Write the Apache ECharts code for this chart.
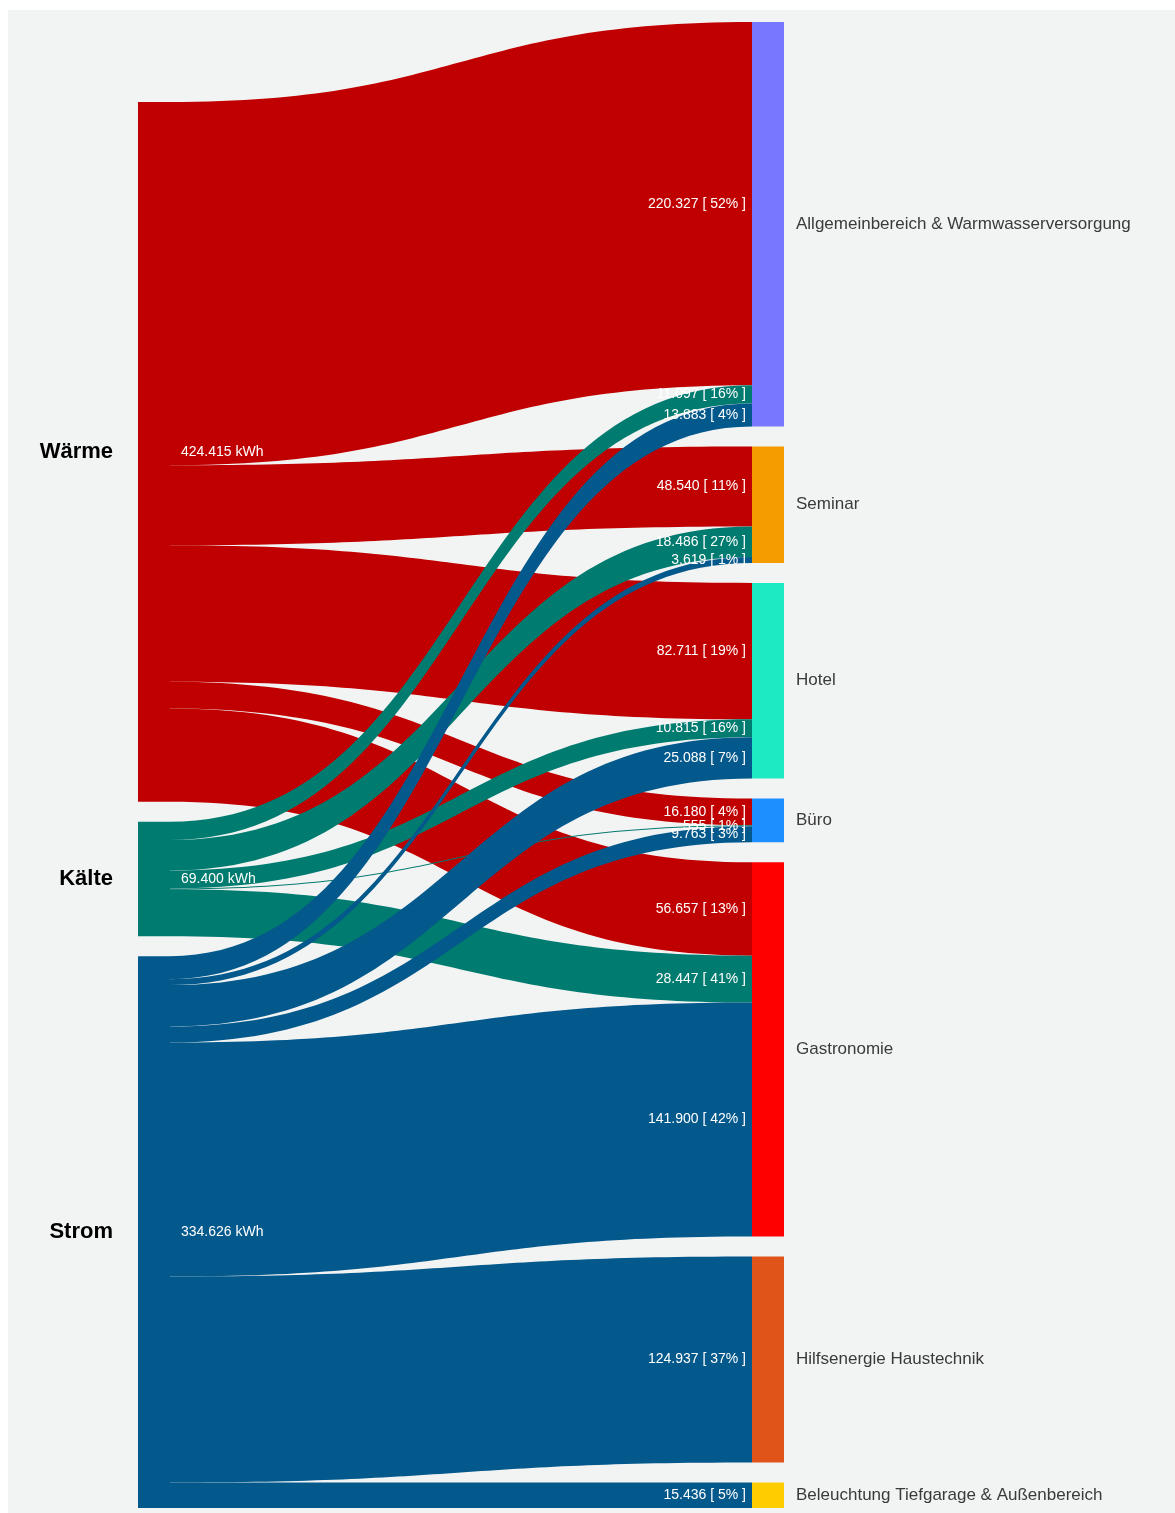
<!DOCTYPE html>
<html>
<head>
<meta charset="utf-8">
<script src="https://cdn.jsdelivr.net/npm/echarts@6/dist/echarts.min.js"></script>
<style>
html, body { margin: 0; padding: 0; background: #ffffff; }
#wrap { position: relative; width: 1175px; height: 1513px; }
#chart { position: absolute; left: 8px; top: 10px; width: 1167px; height: 1503px; }
</style>
</head>
<body>
<div id="wrap"><div id="chart"></div></div>
<script>
// ---- data ----
const sources = ['Wärme', 'Kälte', 'Strom'];
const targets = ['Allgemeinbereich & Warmwasserversorgung', 'Seminar', 'Hotel', 'Büro', 'Gastronomie', 'Hilfsenergie Haustechnik', 'Beleuchtung Tiefgarage & Außenbereich'];
const waermeValues = [220327, 48540, 82711, 16180, 56657, 0, 0];
const kaelteValues = [11097, 18486, 10815, 555, 28447, 0, 0];
const stromValues  = [13883, 3619, 25088, 9763, 141900, 124937, 15436];
const unit = 'kWh';

// ---- styles ----
const sourceColors = ['#c00000', '#007b6f', '#03588c'];
const targetColors = ['#7777ff', '#f59c00', '#1de9c2', '#1e8fff', '#ff0000', '#e0541a', '#ffcc00'];
const sourceValueLists = [waermeValues, kaelteValues, stromValues];

function fmt(v) {
  return String(v).replace(/\B(?=(\d{3})+(?!\d))/g, '.');
}
const sourceTotals = sourceValueLists.map(a => a.reduce((s, v) => s + v, 0));

const nodes = [];
sources.forEach((n, i) => nodes.push({
  name: n,
  itemStyle: { color: sourceColors[i], borderWidth: 0 },
  label: { position: 'left', distance: 25, fontSize: 22, fontWeight: 'bold', color: '#000', fontFamily: 'Liberation Sans' }
}));
targets.forEach((n, i) => nodes.push({
  name: n,
  itemStyle: { color: targetColors[i], borderWidth: 0 },
  label: { position: 'right', distance: 12, fontSize: 17, color: '#3a3a3a', fontFamily: 'Liberation Sans' }
}));
const links = [];
sourceValueLists.forEach((arr, si) => {
  arr.forEach((v, ti) => {
    if (v > 0) links.push({ source: sources[si], target: targets[ti], value: v });
  });
});

const chart = echarts.init(document.getElementById('chart'), null, { renderer: 'canvas' });
chart.setOption({
  backgroundColor: '#f2f3f3',
  animation: false,
  series: [{
    type: 'sankey',
    left: 130, top: 12, right: 391, bottom: 5,
    nodeWidth: 32,
    nodeGap: 20,
    nodeAlign: 'justify',
    draggable: false,
    emphasis: { disabled: true },
    data: nodes,
    links: links,
    lineStyle: { color: 'source', opacity: 1, curveness: 0.5 }
  }]
});

// labels placed from the library's computed layout
function addLabels() {
  const series = chart.getModel().getSeriesByIndex(0);
  const graph = series.getGraph();
  const li = series.layoutInfo;
  const els = [];
  const txtFont = { fill: '#ffffff', fontSize: 14, fontFamily: 'Liberation Sans' };
  graph.edges.forEach(edge => {
    const el = edge.getLayout();
    const n2 = edge.node2.getLayout();
    const v = edge.getValue();
    const si = sources.indexOf(edge.node1.id !== undefined ? edge.node1.id : edge.node1.name);
    const srcName = edge.node1.id;
    const idx = sources.indexOf(srcName);
    const pct = Math.round(v / sourceTotals[idx] * 100);
    els.push({
      type: 'text',
      x: li.x + n2.x - 6,
      y: li.y + n2.y + el.ty + el.dy / 2,
      style: Object.assign({ text: fmt(v) + ' [ ' + pct + '% ]', align: 'right', verticalAlign: 'middle' }, txtFont),
      z: 100
    });
  });
  graph.nodes.forEach(node => {
    const idx = sources.indexOf(node.id);
    if (idx < 0) return;
    const l = node.getLayout();
    els.push({
      type: 'text',
      x: li.x + l.x + l.dx + 11,
      y: li.y + l.y + l.dy / 2,
      style: Object.assign({ text: fmt(sourceTotals[idx]) + ' ' + unit, align: 'left', verticalAlign: 'middle' }, txtFont),
      z: 100
    });
  });
  chart.setOption({ graphic: els });
}
addLabels();
</script>
</body>
</html>
